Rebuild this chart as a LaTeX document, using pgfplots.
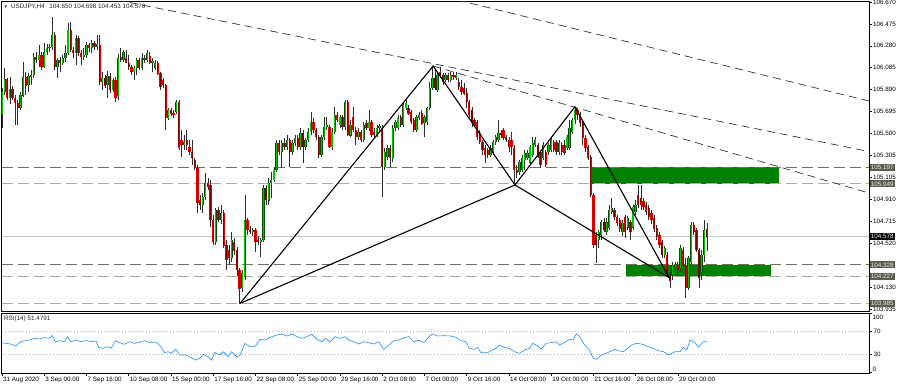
\documentclass[border=0pt]{standalone}
\usepackage{pgfplots}
\usepackage{pgfplotstable}
\pgfplotsset{compat=1.18}
\usepackage{fontspec}
\setmainfont{Liberation Sans}
\newcommand{\sm}{\fontsize{6.3}{7}\selectfont}
\definecolor{upfill}{RGB}{0,200,0}
\definecolor{upedge}{RGB}{0,80,0}
\definecolor{dnfill}{RGB}{128,0,0}
\definecolor{dnedge}{RGB}{225,0,0}
\definecolor{wick}{RGB}{45,45,45}
\definecolor{zone}{RGB}{0,128,0}
\definecolor{lvldark}{RGB}{112,112,100}
\definecolor{lvllight}{RGB}{172,172,162}
\definecolor{boxc}{RGB}{92,92,78}
\definecolor{rsic}{RGB}{30,144,255}
\pgfplotstableread{
i o h l c
0 105.663 105.904 105.548 105.868
1 105.868 106.082 105.841 105.984
2 105.984 105.993 105.797 105.815
3 105.815 106.002 105.761 105.895
4 105.895 105.922 105.797 105.815
5 105.815 105.841 105.574 105.770
6 105.770 105.797 105.574 105.726
7 105.726 105.868 105.708 105.841
8 105.841 106.135 105.824 106.002
9 106.002 106.046 105.841 105.930
10 105.930 106.037 105.868 106.011
11 106.011 106.064 105.930 106.020
12 106.020 106.216 105.993 106.181
13 106.181 106.225 106.126 106.153
14 106.153 106.287 106.091 106.198
15 106.198 106.225 106.064 106.091
16 106.091 106.305 106.082 106.225
17 106.225 106.296 106.198 106.261
18 106.261 106.296 106.225 106.270
19 106.270 106.537 106.243 106.376
20 106.376 106.403 106.064 106.091
21 106.091 106.171 105.993 106.153
22 106.153 106.180 106.046 106.126
23 106.126 106.198 106.109 106.171
24 106.171 106.287 106.135 106.216
25 106.216 106.483 106.198 106.421
26 106.421 106.492 106.225 106.243
27 106.243 106.270 106.171 106.216
28 106.216 106.376 106.109 106.350
29 106.350 106.368 106.189 106.216
30 106.216 106.243 106.109 106.180
31 106.180 106.261 106.153 106.198
32 106.198 106.314 106.171 106.287
33 106.287 106.305 106.225 106.261
34 106.261 106.332 106.216 106.305
35 106.305 106.323 106.243 106.270
36 106.270 106.376 106.243 106.296
37 106.287 106.376 105.930 105.957
38 105.957 106.046 105.886 105.993
39 105.993 106.020 105.904 105.930
40 105.930 106.055 105.815 106.011
41 106.011 106.037 105.859 105.886
42 105.886 105.993 105.868 105.975
43 105.975 106.002 105.779 105.815
44 105.833 106.207 105.797 106.171
45 106.180 106.261 106.135 106.153
46 106.153 106.243 106.135 106.225
47 106.171 106.243 106.126 106.126
48 106.126 106.198 106.064 106.091
49 106.091 106.109 106.020 106.046
50 106.046 106.100 105.975 106.082
51 106.082 106.171 106.020 106.153
52 106.153 106.171 106.064 106.082
53 106.082 106.216 106.064 106.171
54 106.171 106.198 106.126 106.153
55 106.153 106.243 106.135 106.216
56 106.189 106.225 106.118 106.135
57 106.135 106.171 106.046 106.144
58 106.082 106.153 106.064 106.126
59 106.126 106.144 106.020 106.037
60 106.037 106.046 105.886 105.913
61 105.975 105.993 105.904 105.930
62 105.930 105.939 105.530 105.637
63 105.637 105.726 105.619 105.708
64 105.708 105.726 105.655 105.681
65 105.681 105.708 105.637 105.672
66 105.690 105.797 105.672 105.779
67 105.779 105.797 105.352 105.378
68 105.441 105.530 105.289 105.396
69 105.396 105.485 105.352 105.423
70 105.441 105.530 105.352 105.396
71 105.378 105.441 105.307 105.334
72 105.334 105.441 105.218 105.280
73 105.262 105.280 105.173 105.191
74 105.191 105.218 104.790 104.879
75 104.906 104.951 104.817 104.861
76 104.861 104.968 104.790 104.933
77 104.933 105.147 104.906 105.057
78 105.057 105.102 104.995 105.022
79 105.040 105.084 104.665 104.728
80 104.728 104.772 104.505 104.532
81 104.532 104.835 104.505 104.817
82 104.817 104.844 104.710 104.728
83 104.728 104.861 104.692 104.790
84 104.790 104.817 104.478 104.505
85 104.505 104.550 104.282 104.371
86 104.460 104.505 104.327 104.389
87 104.389 104.621 104.354 104.550
88 104.532 104.568 104.416 104.460
89 104.460 104.487 104.229 104.282
90 104.282 104.300 103.985 104.122
91 104.122 104.282 104.086 104.255
92 104.220 104.951 104.193 104.728
93 104.728 104.746 104.594 104.639
94 104.639 104.674 104.603 104.621
95 104.621 104.656 104.585 104.639
96 104.639 104.656 104.443 104.532
97 104.550 104.585 104.505 104.532
98 104.532 104.568 104.398 104.550
99 104.550 105.040 104.532 105.013
100 105.013 105.040 104.861 104.906
101 104.906 105.102 104.861 105.057
102 105.057 105.155 104.924 105.084
103 105.084 105.200 105.066 105.173
104 105.173 105.441 105.155 105.414
105 105.414 105.441 105.307 105.334
106 105.334 105.441 105.191 105.414
107 105.414 105.459 105.352 105.378
108 105.378 105.485 105.352 105.441
109 105.441 105.459 105.200 105.334
110 105.334 105.441 105.307 105.414
111 105.414 105.485 105.387 105.459
112 105.459 105.485 105.352 105.378
113 105.378 105.548 105.352 105.503
114 105.503 105.530 105.236 105.378
115 105.378 105.459 105.352 105.441
116 105.441 105.548 105.423 105.512
117 105.512 105.690 105.485 105.601
118 105.601 105.637 105.503 105.530
119 105.530 105.548 105.441 105.467
120 105.467 105.485 105.280 105.307
121 105.307 105.485 105.289 105.467
122 105.467 105.646 105.441 105.556
123 105.556 105.646 105.530 105.574
124 105.556 105.574 105.369 105.378
125 105.378 105.548 105.352 105.512
126 105.512 105.735 105.494 105.663
127 105.663 105.690 105.601 105.619
128 105.574 105.663 105.548 105.646
129 105.646 105.663 105.530 105.556
130 105.556 105.797 105.530 105.779
131 105.779 105.797 105.476 105.485
132 105.485 105.619 105.467 105.574
133 105.646 105.735 105.512 105.530
134 105.530 105.556 105.396 105.467
135 105.467 105.548 105.441 105.512
136 105.512 105.530 105.423 105.441
137 105.441 105.601 105.423 105.574
138 105.592 105.619 105.530 105.548
139 105.548 105.708 105.521 105.601
140 105.601 105.619 105.467 105.485
141 105.512 105.548 105.459 105.485
142 105.485 105.574 105.467 105.548
143 105.548 105.583 105.512 105.565
144 105.548 105.574 104.933 105.200
145 105.200 105.369 105.173 105.334
146 105.289 105.396 105.262 105.369
147 105.369 105.396 105.200 105.280
148 105.280 105.574 105.244 105.548
149 105.548 105.619 105.521 105.601
150 105.548 105.663 105.530 105.637
151 105.646 105.663 105.556 105.574
152 105.574 105.779 105.556 105.752
153 105.726 105.797 105.708 105.770
154 105.726 105.752 105.663 105.681
155 105.690 105.708 105.583 105.601
156 105.619 105.637 105.512 105.530
157 105.530 105.663 105.512 105.646
158 105.637 105.690 105.619 105.663
159 105.681 105.708 105.574 105.592
160 105.592 105.663 105.467 105.646
161 105.601 105.735 105.574 105.726
162 105.726 105.957 105.708 105.904
163 105.904 106.091 105.886 105.993
164 105.993 106.064 105.886 105.904
165 105.886 106.037 105.868 106.020
166 106.046 106.091 105.993 106.011
167 106.020 106.037 105.930 105.957
168 105.975 106.037 105.957 106.020
169 106.020 106.037 105.957 105.975
170 105.975 106.046 105.957 106.020
171 106.020 106.046 105.975 106.011
172 105.993 106.046 105.975 106.020
173 105.957 105.993 105.886 105.913
174 105.913 105.975 105.841 105.868
175 105.904 105.948 105.841 105.859
176 105.859 105.904 105.726 105.779
177 105.779 105.797 105.637 105.663
178 105.708 105.735 105.556 105.592
179 105.619 105.637 105.556 105.574
180 105.601 105.619 105.441 105.467
181 105.503 105.530 105.405 105.423
182 105.423 105.441 105.307 105.352
183 105.369 105.396 105.236 105.307
184 105.352 105.369 105.280 105.307
185 105.307 105.396 105.289 105.369
186 105.334 105.441 105.307 105.423
187 105.423 105.485 105.396 105.467
188 105.441 105.619 105.423 105.503
189 105.503 105.530 105.459 105.485
190 105.530 105.548 105.441 105.459
191 105.467 105.485 105.423 105.441
192 105.441 105.467 105.334 105.378
193 105.441 105.512 105.307 105.378
194 105.369 105.396 105.040 105.173
195 105.173 105.218 105.102 105.147
196 105.155 105.262 105.129 105.244
197 105.173 105.307 105.155 105.280
198 105.262 105.352 105.173 105.325
199 105.280 105.352 105.262 105.325
200 105.244 105.396 105.227 105.378
201 105.307 105.467 105.289 105.414
202 105.396 105.467 105.378 105.441
203 105.396 105.414 105.280 105.289
204 105.334 105.352 105.191 105.218
205 105.280 105.423 105.262 105.396
206 105.334 105.352 105.200 105.218
207 105.334 105.414 105.307 105.396
208 105.352 105.459 105.334 105.441
209 105.423 105.441 105.334 105.352
210 105.423 105.441 105.307 105.334
211 105.334 105.441 105.307 105.414
212 105.396 105.423 105.307 105.334
213 105.396 105.441 105.307 105.325
214 105.369 105.485 105.352 105.467
215 105.369 105.619 105.352 105.548
216 105.512 105.637 105.494 105.619
217 105.619 105.735 105.583 105.708
218 105.708 105.726 105.619 105.663
219 105.663 105.690 105.556 105.592
220 105.592 105.619 105.396 105.459
221 105.459 105.485 105.334 105.369
222 105.378 105.396 105.262 105.280
223 105.289 105.307 104.933 104.951
224 104.951 104.968 104.478 104.505
225 104.594 104.621 104.345 104.505
226 104.550 104.639 104.478 104.621
227 104.594 104.728 104.550 104.710
228 104.710 104.746 104.621 104.639
229 104.621 104.746 104.594 104.710
230 104.656 104.861 104.639 104.817
231 104.799 104.924 104.781 104.835
232 104.817 104.835 104.728 104.755
233 104.755 104.772 104.675 104.701
234 104.728 104.746 104.621 104.656
235 104.621 104.728 104.585 104.701
236 104.755 104.772 104.568 104.621
237 104.665 104.764 104.639 104.746
238 104.710 104.728 104.550 104.621
239 104.665 104.861 104.639 104.844
240 104.799 104.906 104.772 104.861
241 104.951 105.040 104.835 104.861
242 104.924 105.040 104.817 104.861
243 104.897 104.924 104.817 104.844
244 104.861 104.888 104.772 104.799
245 104.835 104.861 104.728 104.755
246 104.790 104.817 104.692 104.728
247 104.746 104.772 104.621 104.656
248 104.656 104.683 104.550 104.576
249 104.594 104.621 104.478 104.505
250 104.532 104.550 104.389 104.416
251 104.416 104.496 104.389 104.478
252 104.416 104.443 104.220 104.238
253 104.238 104.264 104.122 104.193
254 104.238 104.354 104.193 104.327
255 104.300 104.354 104.264 104.327
256 104.327 104.354 104.255 104.282
257 104.300 104.505 104.264 104.478
258 104.460 104.487 104.282 104.318
259 104.318 104.389 104.033 104.122
260 104.122 104.407 104.104 104.389
261 104.354 104.710 104.327 104.683
262 104.683 104.710 104.594 104.621
263 104.639 104.656 104.443 104.460
264 104.460 104.478 104.122 104.211
265 104.264 104.460 104.193 104.416
266 104.416 104.728 104.354 104.639
267 104.650 104.698 104.453 104.578
}\candles
\pgfplotsset{
  isup/.style={restrict expr to domain={\thisrow{c}-\thisrow{o}}{-0.0001:10}},
  isdn/.style={restrict expr to domain={\thisrow{o}-\thisrow{c}}{0.0005:10}},
  body/.style 2 args={forget plot, draw=none, mark=none,
    error bars/.cd, y dir=both, y explicit, error mark=none,
    error bar style={draw=#1, line width=#2, solid}},
}
\begin{document}
\begin{tikzpicture}
\begin{axis}[
  at={(1.5bp,-1bp)}, anchor=north west,
  scale only axis, width=867.5bp, height=310.5bp,
  xmin=-0.2, xmax=328.4, ymin=103.9125, ymax=106.679,
  axis line style={black, line width=0.8bp},
  xtick=\empty,
  ytick={106.670,106.475,106.280,106.085,105.890,105.695,105.500,105.305,105.105,104.910,104.715,104.520,104.130,103.935},
  yticklabels={106.670,106.475,106.280,106.085,105.890,105.695,105.500,105.305,105.105,104.910,104.715,104.520,104.130,103.935},
  ytick pos=right, tick align=outside, major tick length=2.5bp,
  tick style={black, line width=0.5bp},
  yticklabel style={font=\sm, inner sep=0pt, xshift=1.5bp, text=black},
  scaled y ticks=false,
  clip mode=individual,
]
% zones
\addplot[fill=zone, draw=none, forget plot] coordinates {(223.4,105.049) (294.3,105.049) (294.3,105.197) (223.4,105.197)};
\addplot[fill=zone, draw=none, forget plot] coordinates {(236.3,104.227) (291.2,104.227) (291.2,104.328) (236.3,104.328)};
% levels
\addplot[lvldark, line width=0.9bp, dash pattern=on 11bp off 5bp, forget plot] coordinates {(-0.2,105.197) (328.4,105.197)};
\addplot[lvllight, line width=0.9bp, dash pattern=on 11bp off 5bp, forget plot] coordinates {(-0.2,105.049) (328.4,105.049)};
\addplot[lvldark, line width=0.9bp, dash pattern=on 11bp off 5bp, forget plot] coordinates {(-0.2,104.328) (328.4,104.328)};
\addplot[lvllight, line width=0.9bp, dash pattern=on 11bp off 5bp, forget plot] coordinates {(-0.2,104.227) (328.4,104.227)};
\addplot[lvllight, line width=0.9bp, dash pattern=on 11bp off 5bp, forget plot] coordinates {(-0.2,103.985) (328.4,103.985)};
\addplot[black!22, line width=0.8bp, forget plot] coordinates {(-0.2,104.578) (328.4,104.578)};
% candles: wicks
\addplot[body={wick}{0.8bp}] table[x=i, y expr={(\thisrow{h}+\thisrow{l})/2}, y error expr={(\thisrow{h}-\thisrow{l})/2}] {\candles};
% up bodies
\addplot[isup, body={upedge}{2.3bp}] table[x=i, y expr={(\thisrow{o}+\thisrow{c})/2}, y error expr={abs(\thisrow{c}-\thisrow{o})/2+0.003}] {\candles};
\addplot[isup, body={upfill}{1.1bp}] table[x=i, y expr={(\thisrow{o}+\thisrow{c})/2}, y error expr={abs(\thisrow{c}-\thisrow{o})/2}] {\candles};
% down bodies
\addplot[isdn, body={dnedge}{2.3bp}] table[x=i, y expr={(\thisrow{o}+\thisrow{c})/2}, y error expr={abs(\thisrow{c}-\thisrow{o})/2+0.003}] {\candles};
\addplot[isdn, body={dnfill}{1.1bp}] table[x=i, y expr={(\thisrow{o}+\thisrow{c})/2}, y error expr={abs(\thisrow{c}-\thisrow{o})/2}] {\candles};
% trend lines
\addplot[black!80, line width=0.7bp, dash pattern=on 8bp off 5bp, forget plot] coordinates {(43.6,106.688) (328.4,105.338)};
\addplot[black!80, line width=0.7bp, dash pattern=on 8bp off 5bp, forget plot] coordinates {(172.5,106.688) (328.4,105.788)};
\addplot[black!80, line width=0.7bp, dash pattern=on 8bp off 5bp, forget plot] coordinates {(163.3,106.100) (328.4,104.968)};
% harmonic pattern
\addplot[black, line width=1.1bp, forget plot] coordinates {(90.2,103.985) (163.3,106.100) (194.3,105.040) (217.0,105.737) (252.7,104.214)};
\addplot[black, line width=1.1bp, forget plot] coordinates {(90.2,103.985) (194.3,105.040) (252.7,104.214)};
\coordinate (q1) at (axis cs:328.4,105.197);
\coordinate (q2) at (axis cs:328.4,105.049);
\coordinate (q3) at (axis cs:328.4,104.578);
\coordinate (q4) at (axis cs:328.4,104.328);
\coordinate (q5) at (axis cs:328.4,104.227);
\coordinate (q6) at (axis cs:328.4,103.985);
\end{axis}
\begin{axis}[
  at={(1.5bp,-313bp)}, anchor=north west,
  scale only axis, width=867.5bp, height=60bp,
  xmin=-0.2, xmax=328.4, ymin=-2, ymax=100.7,
  axis line style={black, line width=0.8bp},
  xtick={0,16,32,48,64,80,96,112,128,144,160,176,192,208,224,240,256},
  xticklabels={31 Aug 2020,3 Sep 00:00,7 Sep 16:00,10 Sep 08:00,15 Sep 00:00,17 Sep 16:00,22 Sep 08:00,25 Sep 00:00,29 Sep 16:00,2 Oct 08:00,7 Oct 00:00,9 Oct 16:00,14 Oct 08:00,19 Oct 00:00,21 Oct 16:00,26 Oct 08:00,29 Oct 00:00},
  xtick pos=bottom, ytick pos=right,
  tick align=outside, major tick length=3bp,
  tick style={black, line width=0.5bp},
  xticklabel style={font=\sm, anchor=north west, inner sep=0pt, xshift=1bp, yshift=-0.5bp},
  ytick={0,30,70,100}, yticklabels={{},30,70,{}},
  yticklabel style={font=\sm, inner sep=0pt, xshift=1.5bp},
  clip mode=individual,
]
\addplot[black!30, line width=0.6bp, dash pattern=on 1bp off 2bp, forget plot] coordinates {(-0.2,70) (328.4,70)};
\addplot[black!30, line width=0.6bp, dash pattern=on 1bp off 2bp, forget plot] coordinates {(-0.2,30) (328.4,30)};
\addplot[rsic, line width=0.6bp, mark=none] coordinates {
(0,49.9)(1.4,48.8)(3.3,47.6)(5.2,44.2)(7.1,51.6)(8.4,52.8)(10.3,54.5)(12.2,57.3)(14.1,56.2)(16.0,58.5)(17.9,57.3)(19.1,61.9)(20.2,51.6)(21.7,53.3)(23.6,51.6)(24.8,60.2)(26.1,51.6)(28.0,54.5)(29.9,51.6)(31.8,53.3)(33.7,51.6)(35.6,52.8)(36.6,41.9)(38.1,40.2)(40.1,43.1)(41.3,40.2)(43.0,53.3)(44.5,49.9)(46.4,47.1)(48.3,51.6)(50.2,48.8)(52.1,50.5)(54.0,53.3)(55.9,49.9)(58.4,51.1)(60.3,41.9)(61.6,32.8)(62.9,34.5)(64.1,31.7)(65.8,38.5)(67.3,28.8)(69.2,28.8)(71.1,26.0)(73.0,20.2)(74.9,23.1)(76.2,30.0)(78.1,26.0)(79.3,20.2)(80.6,33.4)(82.5,28.8)(83.8,34.5)(85.7,26.0)(87.0,34.5)(88.8,26.0)(90.1,27.7)(92.0,48.8)(93.9,43.1)(95.8,43.1)(97.7,55.6)(99.6,54.5)(101.5,59.1)(104.1,63.0)(106.0,64.8)(107.9,61.3)(109.8,64.8)(111.7,60.2)(113.6,57.3)(115.5,60.2)(117.4,64.2)(119.3,55.6)(121.2,51.6)(122.4,57.3)(124.3,51.6)(126.2,60.2)(128.1,57.3)(130.0,60.2)(131.3,54.5)(133.2,51.6)(135.1,47.6)(137.0,51.6)(138.9,49.9)(140.8,47.6)(142.7,51.6)(144.6,38.5)(146.5,45.9)(148.4,53.3)(150.3,54.5)(152.2,58.5)(154.1,60.2)(156.0,51.6)(157.9,54.5)(159.8,49.9)(161.7,60.2)(163.0,64.8)(164.9,61.3)(167.4,61.9)(170.0,61.3)(171.9,59.1)(173.8,53.3)(175.7,51.6)(177.0,40.2)(178.9,38.5)(180.1,41.9)(181.4,32.8)(183.9,32.8)(185.8,37.4)(187.1,40.2)(188.4,45.9)(190.3,41.9)(192.2,40.2)(194.1,34.5)(196.0,31.7)(197.9,37.4)(199.8,40.2)(201.1,48.8)(203.0,44.2)(204.2,38.5)(206.1,48.8)(208.0,49.9)(209.9,51.6)(211.2,45.9)(213.1,50.5)(215.0,55.6)(216.3,54.5)(217.5,64.8)(218.8,60.2)(220.7,45.9)(222.6,37.4)(223.9,23.1)(225.1,21.4)(227.0,28.8)(228.9,31.7)(230.2,34.5)(232.1,38.5)(233.4,36.2)(235.3,34.5)(236.5,38.5)(238.4,45.9)(240.3,48.8)(242.2,47.6)(244.8,43.1)(246.7,40.2)(248.6,36.2)(250.5,34.5)(252.4,28.8)(253.7,31.7)(254.9,34.5)(256.8,34.5)(258.1,41.9)(259.4,37.4)(260.6,54.5)(262.5,49.9)(263.8,41.9)(265.7,51.6)(267.0,51.5)
};
\end{axis}
% price label boxes
\foreach \q/\t in {q1/105.197,q2/105.049,q4/104.328,q5/104.227,q6/103.985}{
  \node[anchor=west, fill=boxc, text=white!92!black, font=\sm, inner xsep=1.2bp, inner ysep=1.3bp] at ([xshift=0.5bp]\q) {\t};
}
\node[anchor=west, fill=black, text=white, font=\sm, inner xsep=1.2bp, inner ysep=1.3bp] at ([xshift=0.5bp]q3) {104.578};
% RSI outer labels
\node[anchor=west, font=\sm, inner sep=0pt] at (872.5bp,-317bp) {100};
\node[anchor=west, font=\sm, inner sep=0pt] at (872.5bp,-369bp) {0};
% header texts
\node[anchor=west, font=\sm, text=black!85, inner sep=0pt] at (3.5bp,-6.5bp) {{\fontsize{4.5}{5}\selectfont ▼}\hspace{3bp}USDJPY,H4\hspace{4.5bp}104.650 104.698 104.453 104.578};
\node[anchor=west, font=\sm, text=black!85, inner sep=0pt] at (4bp,-318.5bp) {RSI(14) 51.4791};
\pgfresetboundingbox
\path[use as bounding box] (0,0) rectangle (900bp,-387bp);
\end{tikzpicture}
\end{document}
